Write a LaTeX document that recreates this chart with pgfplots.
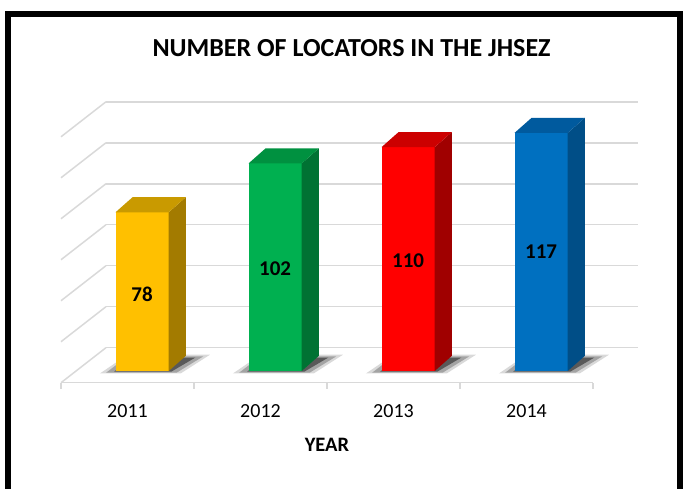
\documentclass[border=0pt]{standalone}
\usepackage{pgfplots}
\pgfplotsset{compat=1.18}
\usepackage{fontspec}
\setmainfont{Carlito}

\definecolor{gridc}{HTML}{D9D9D9}
\definecolor{yfront}{HTML}{FFC000}
\definecolor{yside}{HTML}{A37B00}
\definecolor{ytop}{HTML}{C99A00}
\definecolor{gfront}{HTML}{00B050}
\definecolor{gside}{HTML}{007233}
\definecolor{gtop}{HTML}{009140}
\definecolor{rfront}{HTML}{FF0000}
\definecolor{rside}{HTML}{A00000}
\definecolor{rtop}{HTML}{CC0000}
\definecolor{bfront}{HTML}{0070C0}
\definecolor{bside}{HTML}{004E87}
\definecolor{btop}{HTML}{005A9E}

\begin{document}
\begin{tikzpicture}
% outer frame of the chart
\draw[line width=6pt] (8pt,-30pt) -- (8pt,474pt) -- (680pt,474pt) -- (680pt,-30pt);
\node[font=\bfseries\fontsize{26}{27}\selectfont] at (351.5pt,440pt) {NUMBER OF LOCATORS IN THE JHSEZ};

\begin{axis}[
  at={(127.5pt,117pt)}, anchor=origin,
  x=133pt, y=2.035pt,
  xmin=-0.5, xmax=3.5, ymin=-5.75, ymax=132.3,
  axis x line*=bottom, axis y line=none,
  x axis line style={draw=gridc, line width=1.5pt},
  xtick={-0.5,0.5,1.5,2.5,3.5},
  xticklabels={2011,2012,2013,2014},
  x tick label as interval,
  tick align=outside, major tick length=6pt,
  major tick style={draw=gridc, line width=1.5pt},
  xticklabel style={font=\fontsize{20}{21}\selectfont, anchor=center, yshift=-22.5pt},
  xlabel={YEAR},
  xlabel style={font=\bfseries\fontsize{20.5}{21}\selectfont, at={(axis description cs:0.5,0)}, anchor=center, yshift=-62pt},
  clip=false,
]
% back wall and left wall gridlines
\pgfplotsinvokeforeach{11.45,31.59,51.73,71.87,92.01,112.15,132.29}{
  \addplot[draw=gridc, line width=1.5pt, forget plot] coordinates {(-0.162,#1) (3.838,#1)};
}
\addplot[draw=gridc, line width=1.5pt] coordinates {(-0.5,-5.75) (-0.162,11.45)};
\addplot[draw=gridc, line width=1.5pt] coordinates {(-0.5,14.39) (-0.162,31.59)};
\addplot[draw=gridc, line width=1.5pt] coordinates {(-0.5,34.53) (-0.162,51.73)};
\addplot[draw=gridc, line width=1.5pt] coordinates {(-0.5,54.67) (-0.162,71.87)};
\addplot[draw=gridc, line width=1.5pt] coordinates {(-0.5,74.81) (-0.162,92.01)};
\addplot[draw=gridc, line width=1.5pt] coordinates {(-0.5,94.95) (-0.162,112.15)};
\addplot[draw=gridc, line width=1.5pt] coordinates {(-0.5,115.09) (-0.162,132.29)};

% soft shadows on the floor
\addplot[fill=black, draw=none, opacity=0.15] coordinates {(-0.207,-1.2) (0.40,-1.2) (0.62,8.0) (0.0,8.0)} -- cycle;
\addplot[fill=black, draw=none, opacity=0.25] coordinates {(-0.16,-0.8) (0.37,-0.8) (0.57,7.2) (0.0,7.2)} -- cycle;
\addplot[fill=black, draw=none, opacity=0.45] coordinates {(-0.10,-0.3) (0.33,-0.3) (0.51,6.6) (0.03,6.6)} -- cycle;
\addplot[fill=black, draw=none, opacity=0.15] coordinates {(0.793,-1.2) (1.40,-1.2) (1.62,8.0) (1.0,8.0)} -- cycle;
\addplot[fill=black, draw=none, opacity=0.25] coordinates {(0.84,-0.8) (1.37,-0.8) (1.57,7.2) (1.0,7.2)} -- cycle;
\addplot[fill=black, draw=none, opacity=0.45] coordinates {(0.90,-0.3) (1.33,-0.3) (1.51,6.6) (1.03,6.6)} -- cycle;
\addplot[fill=black, draw=none, opacity=0.15] coordinates {(1.793,-1.2) (2.40,-1.2) (2.62,8.0) (2.0,8.0)} -- cycle;
\addplot[fill=black, draw=none, opacity=0.25] coordinates {(1.84,-0.8) (2.37,-0.8) (2.57,7.2) (2.0,7.2)} -- cycle;
\addplot[fill=black, draw=none, opacity=0.45] coordinates {(1.90,-0.3) (2.33,-0.3) (2.51,6.6) (2.03,6.6)} -- cycle;
\addplot[fill=black, draw=none, opacity=0.15] coordinates {(2.793,-1.2) (3.40,-1.2) (3.62,8.0) (3.0,8.0)} -- cycle;
\addplot[fill=black, draw=none, opacity=0.25] coordinates {(2.84,-0.8) (3.37,-0.8) (3.57,7.2) (3.0,7.2)} -- cycle;
\addplot[fill=black, draw=none, opacity=0.45] coordinates {(2.90,-0.3) (3.33,-0.3) (3.51,6.6) (3.03,6.6)} -- cycle;

% bars: front faces
\addplot[ybar, bar width=0.4, bar shift=0.11, fill=yfront, draw=none] coordinates {(0,78)};
\addplot[ybar, bar width=0.4, bar shift=0.11, fill=gfront, draw=none] coordinates {(1,102)};
\addplot[ybar, bar width=0.4, bar shift=0.11, fill=rfront, draw=none] coordinates {(2,110)};
\addplot[ybar, bar width=0.4, bar shift=0.11, fill=bfront, draw=none] coordinates {(3,117)};
% side faces
\addplot[fill=yside, draw=none] coordinates {(0.31,0) (0.438,7.4) (0.438,85.4) (0.31,78)} -- cycle;
\addplot[fill=gside, draw=none] coordinates {(1.31,0) (1.438,7.4) (1.438,109.4) (1.31,102)} -- cycle;
\addplot[fill=rside, draw=none] coordinates {(2.31,0) (2.438,7.4) (2.438,117.4) (2.31,110)} -- cycle;
\addplot[fill=bside, draw=none] coordinates {(3.31,0) (3.438,7.4) (3.438,124.4) (3.31,117)} -- cycle;
% top faces
\addplot[fill=ytop, draw=none] coordinates {(-0.09,78) (0.31,78) (0.438,85.4) (0.038,85.4)} -- cycle;
\addplot[fill=gtop, draw=none] coordinates {(0.91,102) (1.31,102) (1.438,109.4) (1.038,109.4)} -- cycle;
\addplot[fill=rtop, draw=none] coordinates {(1.91,110) (2.31,110) (2.438,117.4) (2.038,117.4)} -- cycle;
\addplot[fill=btop, draw=none] coordinates {(2.91,117) (3.31,117) (3.438,124.4) (3.038,124.4)} -- cycle;

% value labels in the middle of each bar
\addplot[draw=none, mark=none, nodes near coords, point meta=explicit symbolic,
  every node near coord/.append style={font=\bfseries\fontsize{21}{22}\selectfont, anchor=center}]
  coordinates {(0.11,37.8) [78] (1.11,50.1) [102] (2.11,54.1) [110] (3.11,58.5) [117]};
\end{axis}
\pgfresetboundingbox
\useasboundingbox (0pt,0pt) rectangle (684pt,488pt);
\end{tikzpicture}
\end{document}
